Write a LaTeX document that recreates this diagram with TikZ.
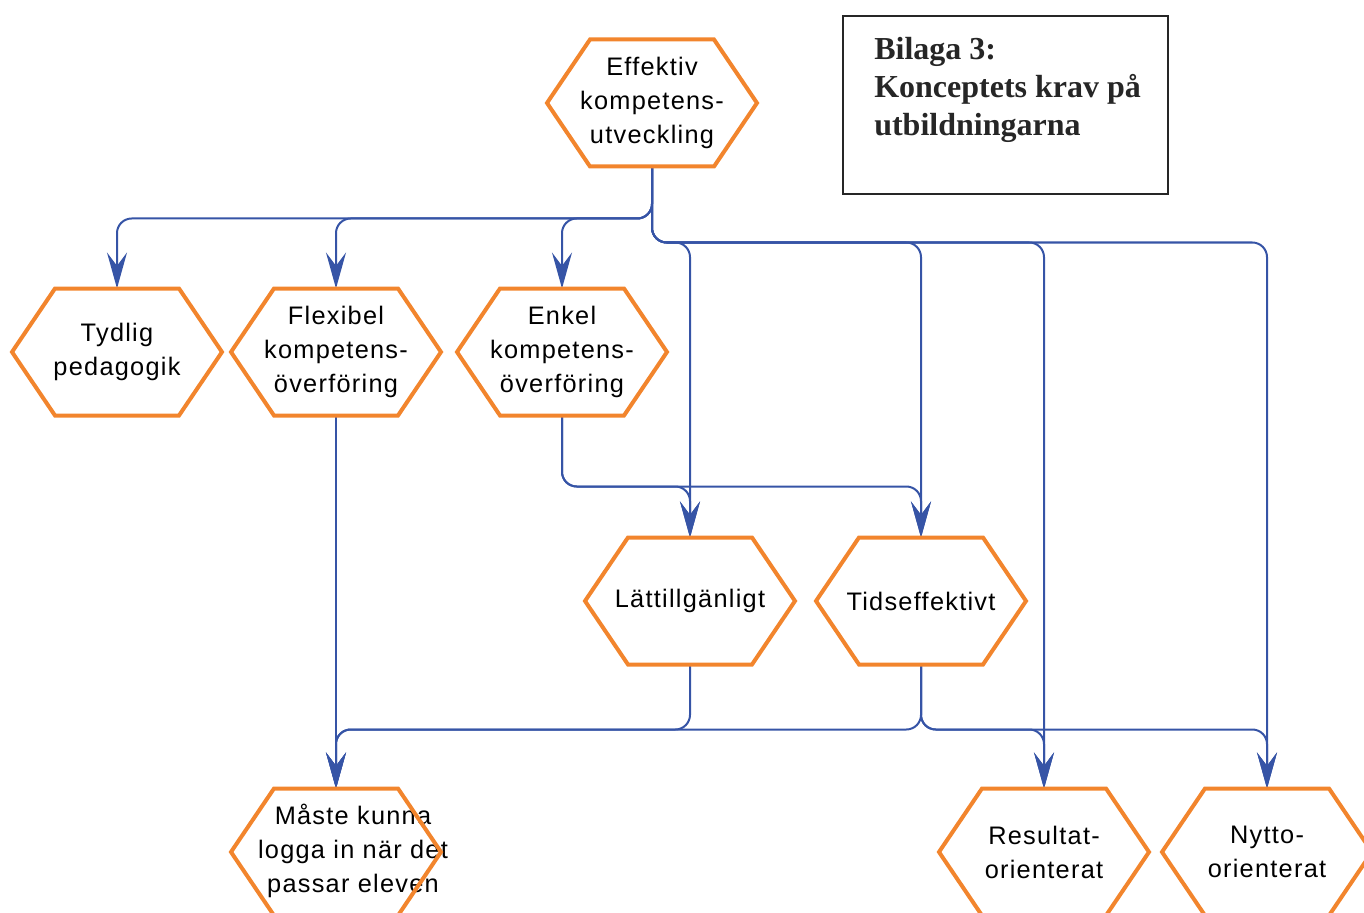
\documentclass[tikz,border=0pt]{standalone}
\usepackage{fontspec}
\setmainfont{Liberation Serif}
\newfontfamily\hexfontfam[LetterSpace=5]{Liberation Sans}
\usetikzlibrary{arrows.meta}
\definecolor{hexorange}{RGB}{242,133,45}
\definecolor{linkblue}{RGB}{54,84,166}
\tikzset{
  hexnode/.style={minimum width=157.5pt, minimum height=95.25pt, inner sep=0pt, outer sep=0pt,
    align=center, font=\hexfontfam\fontsize{19}{25.5}\selectfont},
  hextext/.style={inner sep=0pt, align=center, font=\hexfontfam\fontsize{19}{25.5}\selectfont},
  hexline/.style={draw=hexorange, line width=3pt, line join=miter},
  conn/.style={draw=linkblue, line width=1.5pt, rounded corners=11pt,
    -{Stealth[length=27pt,width=15pt,inset=10pt]}},
  titlebox/.style={draw=black!85, line width=1.8pt},
  titletext/.style={inner sep=0pt, align=left, font=\bfseries\fontsize{24}{28.5}\selectfont, text=black!85}
}
\begin{document}
\begin{tikzpicture}[x=0.75pt,y=-0.75pt]
\useasboundingbox (0,0) rectangle (1364,913);
\clip (0,0) rectangle (1364,913);

% nodes
\node[hexnode] (eff) at (652,103) {Effektiv\\kompetens-\\utveckling};
\node[hexnode] (tyd) at (117,352) {Tydlig\\pedagogik};
\node[hexnode] (flx) at (336,352) {Flexibel\\kompetens-\\överföring};
\node[hexnode] (enk) at (562,352) {Enkel\\kompetens-\\överföring};
\node[hexnode] (lat) at (690,601) {Lättillgänligt};
\node[hexnode] (tid) at (921,601) {Tidseffektivt};
\node[hexnode] (mas) at (336,852) {};
\node[hextext] (mastext) at (353,851) {Måste kunna\\logga in när det\\passar eleven};
\node[hexnode] (res) at (1044,852) {Resultat-\\orienterat};
\node[hexnode] (nyt) at (1267,852) {Nytto-\\orienterat};

% connectors
\draw[conn] (eff.south) -- ++(0,52) -| (tyd.north);
\draw[conn] (eff.south) -- ++(0,52) -| (flx.north);
\draw[conn] (eff.south) -- ++(0,52) -| (enk.north);
\draw[conn] (eff.south) -- ++(0,76) -| (lat.north);
\draw[conn] (eff.south) -- ++(0,76) -| (tid.north);
\draw[conn] (eff.south) -- ++(0,76) -| (res.north);
\draw[conn] (eff.south) -- ++(0,76) -| (nyt.north);
\draw[conn] (enk.south) -- ++(0,71) -| (lat.north);
\draw[conn] (enk.south) -- ++(0,71) -| (tid.north);
\draw[conn] (flx.south) -- (mas.north);
\draw[conn] (lat.south) -- ++(0,65) -| (mas.north);
\draw[conn] (tid.south) -- ++(0,65) -| (mas.north);
\draw[conn] (tid.south) -- ++(0,65) -| (res.north);
\draw[conn] (tid.south) -- ++(0,65) -| (nyt.north);

% hexagon outlines
\foreach \n in {eff,tyd,flx,enk,lat,tid,mas,res,nyt}{
  \draw[hexline] (\n.west) -- ([xshift=32.25pt]\n.north west) -- ([xshift=-32.25pt]\n.north east)
    -- (\n.east) -- ([xshift=-32.25pt]\n.south east) -- ([xshift=32.25pt]\n.south west) -- cycle;
}

% title box
\draw[titlebox] (843,16) rectangle (1168,194);
\node[titletext, anchor=north west] (title) at (874,37) {Bilaga 3:\\Konceptets krav på\\utbildningarna};
\end{tikzpicture}
\end{document}
